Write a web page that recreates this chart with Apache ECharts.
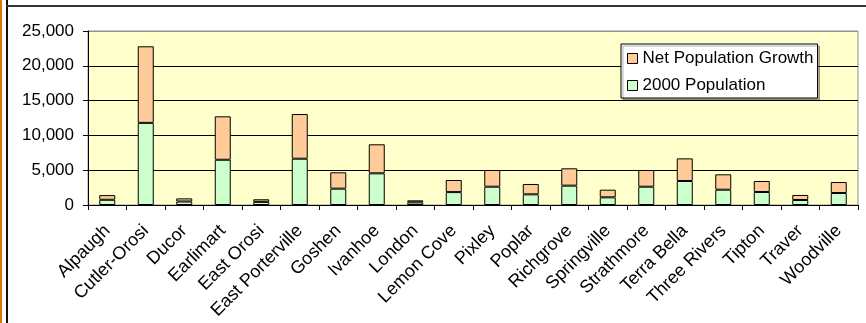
<!DOCTYPE html>
<html><head><meta charset="utf-8">
<script src="https://cdn.jsdelivr.net/npm/echarts@6/dist/echarts.min.js"></script>
<style>html,body{margin:0;padding:0;background:#fff}#c{width:866px;height:323px}</style>
</head><body><div id="c"></div>
<script>
var categories = ['Alpaugh','Cutler-Orosi','Ducor','Earlimart','East Orosi','East Porterville','Goshen','Ivanhoe','London','Lemon Cove','Pixley','Poplar','Richgrove','Springville','Strathmore','Terra Bella','Three Rivers','Tipton','Traver','Woodville'];
var pop2000 = [750, 11800, 500, 6500, 450, 6650, 2350, 4550, 380, 1850, 2630, 1530, 2780, 1100, 2630, 3450, 2200, 1870, 720, 1720];
var netGrowth = [670, 11000, 450, 6240, 370, 6420, 2350, 4170, 290, 1740, 2400, 1490, 2490, 1100, 2400, 3250, 2210, 1580, 720, 1580];
var yTicks = [0, 5000, 10000, 15000, 20000, 25000];

var chart = echarts.init(document.getElementById('c'));
var font = 'Liberation Sans, Arial, sans-serif';
chart.setOption({
  animation: false,
  textStyle: {fontFamily: font},
  graphic: [
    {type:'rect', shape:{x:0,y:0,width:2,height:323}, style:{fill:'#D97A00'}, silent:true},
    {type:'rect', shape:{x:6,y:0,width:2,height:323}, style:{fill:'#111'}, silent:true},
    {type:'rect', shape:{x:6,y:5,width:860,height:2}, style:{fill:'#333'}, silent:true}
  ],
  grid: {left: 88, top: 31, right: 8, bottom: 118, show: true, backgroundColor: '#FFFFCC', borderColor: '#909090', borderWidth: 1},
  legend: {
    orient: 'vertical', left: 621, top: 44,
    data: ['Net Population Growth', '2000 Population'],
    backgroundColor: '#fff', borderColor: '#000', borderWidth: 1,
    padding: [6, 4, 4, 6], itemGap: 10, itemWidth: 10, itemHeight: 10,
    icon: 'rect',
    itemStyle: {borderColor: '#000', borderWidth: 1},
    textStyle: {fontSize: 17, color: '#000', fontFamily: font, lineHeight: 16},
    shadowColor: 'rgba(0,0,0,0.3)', shadowOffsetX: 2, shadowOffsetY: 2, shadowBlur: 0
  },
  xAxis: {
    type: 'category', data: categories,
    axisLine: {lineStyle: {color: '#000', width: 1}},
    axisTick: {show: true, length: 5, lineStyle: {color: '#000'}, alignWithLabel: false},
    axisLabel: {interval: 0, rotate: 45, fontSize: 18, color: '#000', margin: 23, fontFamily: font}
  },
  yAxis: {
    type: 'value', min: yTicks[0], max: yTicks[yTicks.length-1], interval: yTicks[1]-yTicks[0],
    axisLine: {show: true, lineStyle: {color: '#000', width: 1}},
    axisTick: {show: true, length: 5, lineStyle: {color: '#000'}},
    axisLabel: {fontSize: 17, color: '#000', margin: 14, fontFamily: font,
      formatter: function (v) { return v.toLocaleString('en-US'); }},
    splitLine: {show: true, lineStyle: {color: ['#000','#000','#000','#000','#000','#909090'], width: 1}}
  },
  series: [
    {name: '2000 Population', type: 'bar', stack: 'p', data: pop2000, barWidth: 16,
     itemStyle: {color: '#CCFFCC', borderColor: '#000', borderWidth: 1}},
    {name: 'Net Population Growth', type: 'bar', stack: 'p', data: netGrowth, barWidth: 16,
     itemStyle: {color: '#FFCC99', borderColor: '#000', borderWidth: 1}}
  ]
});
</script></body></html>
